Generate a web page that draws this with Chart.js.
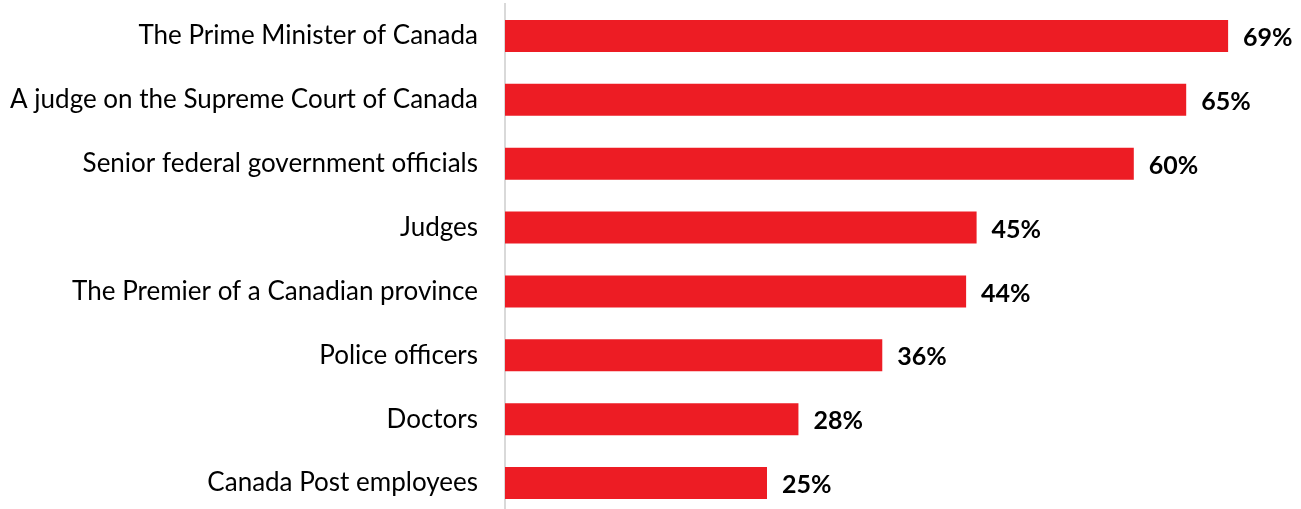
<!DOCTYPE html>
<html>
<head>
<meta charset="utf-8">
<script src="https://cdn.jsdelivr.net/npm/chart.js@4/dist/chart.umd.min.js"></script>
<style>
  html, body { margin: 0; padding: 0; background: #fff; overflow: hidden; }
  canvas { display: block; }
</style>
</head>
<body>
<canvas id="chart" width="1301" height="516"></canvas>
<script>
const categories = [
  "The Prime Minister of Canada",
  "A judge on the Supreme Court of Canada",
  "Senior federal government officials",
  "Judges",
  "The Premier of a Canadian province",
  "Police officers",
  "Doctors",
  "Canada Post employees"
];
const values = [69, 65, 60, 45, 44, 36, 28, 25];

const barColor = "#ed1c24";
const fontFamily = "Lato, 'Open Sans', sans-serif";

// draws the bold % label just past the end of each bar
const valueLabels = {
  id: "valueLabels",
  afterDatasetsDraw(chart) {
    const ctx = chart.ctx;
    const meta = chart.getDatasetMeta(0);
    ctx.save();
    ctx.font = "bold 25px " + fontFamily;
    ctx.fillStyle = "#000";
    ctx.textAlign = "left";
    ctx.textBaseline = "middle";
    meta.data.forEach((bar, i) => {
      ctx.fillText(values[i] + "%", bar.x + 15, bar.y + 2);
    });
    ctx.restore();
  }
};

new Chart(document.getElementById("chart"), {
  type: "bar",
  data: {
    labels: categories,
    datasets: [{
      data: values,
      backgroundColor: barColor,
      categoryPercentage: 1,
      barPercentage: 0.5
    }]
  },
  plugins: [valueLabels],
  options: {
    indexAxis: "y",
    responsive: false,
    animation: false,
    layout: { padding: { top: 4, right: 10, bottom: 1, left: 0 } },
    scales: {
      x: {
        display: false,
        min: 0,
        max: 75
      },
      y: {
        afterFit(scale) {
          scale.width = 505;
          scale.paddingTop = 0;
          scale.paddingBottom = 0;
        },
        grid: { display: false, drawTicks: false },
        border: { display: true, color: "#d9d9d9", width: 2 },
        ticks: {
          color: "#000",
          padding: 27,
          font: { family: fontFamily, size: 26 }
        }
      }
    },
    plugins: {
      legend: { display: false },
      tooltip: { enabled: false }
    }
  }
});
</script>
</body>
</html>
